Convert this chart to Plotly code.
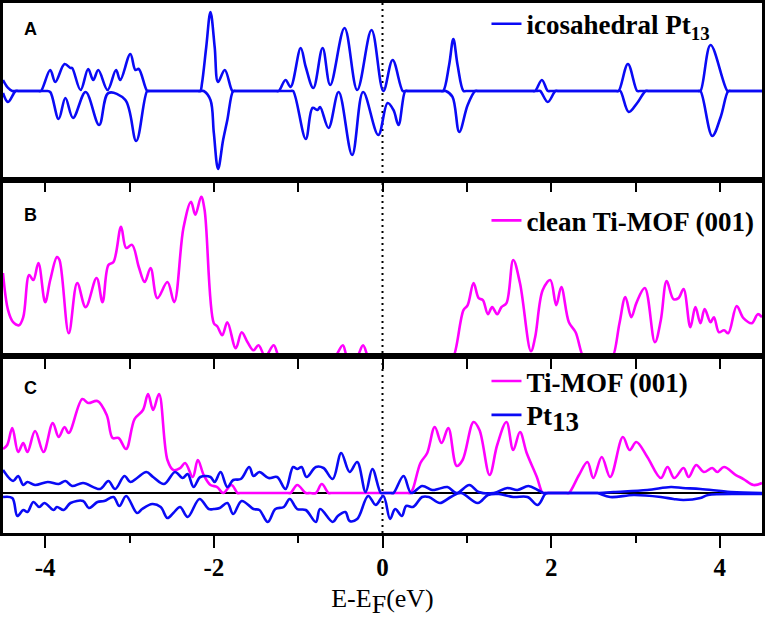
import plotly.graph_objects as go

# ---------------- data (energy E-EF in eV, DOS in arbitrary units) ----------------
# Panel A: icosahedral Pt13, spin up (+) and spin down (-)
a_up = [(-4.50, 1.1), (-4.44, 0.3), (-4.39, 0), (-4.36, 0), (-4.08, 0), (-4.05, 0),
        (-3.94, 2.1), (-3.88, 0.9), (-3.77, 2.7), (-3.70, 2.3), (-3.68, 2.3), (-3.58, 0.1),
        (-3.49, 2.2), (-3.43, 1.1), (-3.37, 2.1), (-3.26, 0.1), (-3.16, 2.1), (-3.11, 1.1),
        (-2.99, 3.7), (-2.93, 2.1), (-2.89, 2.2), (-2.79, 0), (-2.76, 0),
        (-2.19, 0), (-2.16, 0), (-2.14, 0.8), (-2.09, 4.4), (-2.04, 7.9), (-1.99, 4.4),
        (-1.95, 0.9), (-1.87, 2.1), (-1.78, 0), (-1.75, 0),
        (-1.26, 0), (-1.23, 0), (-1.15, 1.1), (-1.09, 0.4), (-0.97, 4.3), (-0.91, 2.4),
        (-0.82, 0.3), (-0.71, 4.3), (-0.62, 0.6), (-0.45, 6.3), (-0.30, 0.1), (-0.13, 6.1),
        (0.01, 0), (0.12, 3.1), (0.24, 0), (0.27, 0),
        (0.69, 0), (0.72, 0), (0.79, 2.6), (0.84, 5.2), (0.89, 2.6), (0.96, 0), (0.99, 0),
        (1.78, 0), (1.81, 0), (1.89, 1.1), (1.96, 0), (1.99, 0),
        (2.77, 0), (2.80, 0), (2.91, 2.7), (3.02, 0), (3.05, 0),
        (3.74, 0), (3.77, 0), (3.89, 4.6), (4.09, 0), (4.12, 0), (4.50, 0)]

a_down = [(-4.50, -0.2), (-4.44, -1.1), (-4.35, 0), (-4.32, 0), (-4.01, 0), (-3.98, 0),
          (-3.94, -0.1), (-3.84, -2.8), (-3.76, -0.7), (-3.67, -2.7), (-3.52, -0.1),
          (-3.36, -3.4), (-3.25, -0.2), (-3.05, -0.9), (-2.92, -5.0), (-2.79, 0), (-2.76, 0),
          (-2.15, 0), (-2.12, 0), (-2.04, -0.9), (-2.00, -4.2), (-1.95, -7.8), (-1.89, -4.9),
          (-1.84, -2.9), (-1.77, 0), (-1.74, 0),
          (-1.09, 0), (-1.06, 0), (-0.91, -4.8), (-0.83, -1.7), (-0.77, -1.9), (-0.74, -1.6),
          (-0.64, -3.7), (-0.52, -0.1), (-0.36, -6.4), (-0.23, -0.1), (-0.05, -4.4),
          (0.06, -1.2), (0.13, -1.9), (0.19, -3.4), (0.27, 0), (0.30, 0),
          (0.72, 0), (0.75, 0), (0.83, -0.6), (0.91, -4.1), (1.01, -1.4), (1.10, 0), (1.13, 0),
          (1.84, 0), (1.87, 0), (1.96, -1.1), (2.05, 0), (2.08, 0),
          (2.79, 0), (2.82, 0), (2.92, -2.1), (3.02, -1.2), (3.12, 0), (3.15, 0),
          (3.74, 0), (3.77, 0), (3.91, -4.5), (4.01, -2.6), (4.10, 0), (4.13, 0), (4.50, 0)]

# Panel B: clean Ti-MOF (001)
b_mof = [(-4.50, 8.3), (-4.44, 4.6), (-4.38, 3.4), (-4.31, 3.1), (-4.26, 3.9), (-4.19, 8.1),
         (-4.14, 7.6), (-4.08, 9.3), (-4.00, 5.4), (-3.94, 7.6), (-3.86, 9.9), (-3.83, 9.6),
         (-3.72, 2.3), (-3.62, 7.3), (-3.52, 4.9), (-3.39, 7.8), (-3.32, 5.4), (-3.25, 9.1),
         (-3.19, 9.4), (-3.10, 12.9), (-3.04, 10.8), (-2.97, 11.1), (-2.89, 8.9), (-2.82, 7.4),
         (-2.75, 8.8), (-2.67, 5.8), (-2.55, 7.4), (-2.47, 5.4), (-2.36, 12.8), (-2.27, 15.4),
         (-2.22, 14.1), (-2.15, 15.9), (-2.11, 14.6), (-2.00, 3.3), (-1.96, 3.0), (-1.90, 2.1),
         (-1.84, 3.4), (-1.74, 0.8), (-1.67, 2.4), (-1.60, 1.4), (-1.53, 0.6), (-1.47, 1.1),
         (-1.39, 0), (-1.29, 1.1), (-1.23, 0), (-1.20, 0),
         (-0.59, 0), (-0.56, 0), (-0.47, 1.1), (-0.42, 0), (-0.38, 0),
         (-0.33, 0), (-0.30, 0), (-0.23, 1.1), (-0.17, 0), (-0.14, 0),
         (0.81, 0), (0.84, 0), (0.96, 4.6), (1.01, 5.1), (1.08, 7.3), (1.14, 5.8), (1.19, 5.6),
         (1.25, 4.2), (1.30, 4.9), (1.36, 4.2), (1.41, 4.9), (1.47, 5.3), (1.55, 9.6),
         (1.63, 7.3), (1.76, 0.5), (1.81, 1.9), (1.90, 6.6), (1.99, 7.6), (2.06, 5.1),
         (2.12, 6.9), (2.21, 3.4), (2.29, 2.4), (2.38, 0), (2.41, 0),
         (2.70, 0), (2.73, 0), (2.81, 3.3), (2.88, 5.9), (2.95, 3.9), (3.01, 5.3), (3.11, 6.8),
         (3.23, 1.4), (3.30, 3.6), (3.37, 7.5), (3.45, 5.7), (3.51, 5.8), (3.57, 6.7),
         (3.65, 2.9), (3.71, 4.9), (3.77, 3.3), (3.82, 4.7), (3.89, 3.4), (3.93, 3.9),
         (3.99, 2.4), (4.05, 2.6), (4.10, 2.3), (4.20, 5.0), (4.28, 3.8), (4.38, 3.3),
         (4.45, 4.2), (4.50, 3.9)]

# Panel C: Pt13 on Ti-MOF (001)
c_mof = [(-4.50, 4.4), (-4.45, 4.8), (-4.39, 6.5), (-4.32, 4.1), (-4.26, 5.0), (-4.21, 4.1),
         (-4.12, 6.2), (-4.02, 4.1), (-3.91, 7.0), (-3.84, 5.6), (-3.77, 6.6), (-3.72, 6.0),
         (-3.56, 9.4), (-3.49, 9.0), (-3.38, 9.2), (-3.27, 7.8), (-3.20, 5.5), (-3.13, 5.5),
         (-3.04, 4.4), (-2.94, 7.4), (-2.84, 8.3), (-2.78, 9.9), (-2.72, 8.3), (-2.65, 9.9),
         (-2.55, 3.3), (-2.48, 2.3), (-2.40, 2.5), (-2.34, 3.0), (-2.25, 1.6), (-2.19, 3.3),
         (-2.12, 1.8), (-2.04, 0.8), (-1.96, 0.6), (-1.89, 0), (-1.79, 0.8), (-1.72, 0),
         (-1.69, 0), (-1.12, 0), (-1.09, 0), (-1.01, 0.8), (-0.91, 0), (-0.86, 0),
         (-0.79, 0), (-0.72, 0.9), (-0.64, 0), (-0.61, 0),
         (0.30, 0), (0.33, 0), (0.36, 0.4), (0.45, 3.0), (0.53, 4.0), (0.62, 6.6), (0.70, 5.0),
         (0.78, 6.5), (0.88, 2.7), (0.95, 3.3), (1.08, 7.1), (1.15, 6.3), (1.27, 1.8),
         (1.36, 4.8), (1.47, 7.1), (1.55, 4.3), (1.63, 6.1), (1.71, 4.0), (1.83, 1.6),
         (1.90, 0), (1.93, 0), (2.18, 0), (2.21, 0),
         (2.33, 1.8), (2.43, 3.1), (2.50, 1.5), (2.60, 3.6), (2.70, 1.6), (2.85, 5.6),
         (2.93, 4.3), (3.01, 5.1), (3.14, 3.6), (3.30, 1.5), (3.38, 2.6), (3.46, 1.5),
         (3.57, 2.5), (3.63, 1.6), (3.72, 2.8), (3.81, 2.1), (3.91, 2.5), (3.97, 2.1),
         (4.05, 2.6), (4.19, 1.8), (4.28, 1.4), (4.40, 0.8), (4.50, 1.0)]

c_pt_up = [(-4.50, 2.3), (-4.38, 1.2), (-4.32, 1.7), (-4.26, 0.8), (-4.21, 1.1), (-4.12, 0.8),
           (-3.97, 1.1), (-3.84, 0.9), (-3.76, 1.2), (-3.68, 0.7), (-3.55, 1.0), (-3.35, 0.4),
           (-3.25, 1.2), (-3.17, 0.4), (-3.06, 1.7), (-2.99, 1.1), (-2.91, 1.5), (-2.80, 2.1),
           (-2.72, 1.6), (-2.59, 0.9), (-2.46, 2.1), (-2.37, 1.5), (-2.31, 1.9), (-2.24, 0.6),
           (-2.16, 1.6), (-2.04, 1.6), (-1.99, 1.1), (-1.92, 2.1), (-1.84, 0.6), (-1.77, 1.3),
           (-1.68, 1.4), (-1.58, 2.6), (-1.53, 1.7), (-1.46, 2.1), (-1.35, 1.5), (-1.25, 1.6),
           (-1.15, 0.4), (-1.06, 2.6), (-1.01, 2.4), (-0.96, 2.6), (-0.90, 1.6), (-0.79, 2.6),
           (-0.70, 2.5), (-0.59, 1.4), (-0.49, 4.0), (-0.39, 2.1), (-0.30, 3.1), (-0.20, 0.1),
           (-0.12, 2.4), (-0.02, 0), (0.01, 0), (0.10, 0), (0.13, 0), (0.25, 1.7), (0.34, 0),
           (0.47, 0.7), (0.59, 0.3), (0.66, 0.4), (0.77, 0.6), (0.88, 0), (1.03, 0.8),
           (1.14, 0.1), (1.32, 0), (1.48, 0.5), (1.60, 0.3), (1.73, 0.7), (1.84, 0.3),
           (1.91, 0), (1.94, 0), (2.52, 0), (2.55, 0), (2.74, 0.1), (3.14, 0.3), (3.42, 0.6),
           (3.56, 0.5), (3.77, 0.4), (4.13, 0.1), (4.50, 0)]

c_pt_down = [(-4.50, -0.4), (-4.39, -0.5), (-4.33, -2.3), (-4.26, -1.7), (-4.21, -1.9),
             (-4.14, -0.9), (-4.07, -1.4), (-4.01, -1.0), (-3.90, -1.7), (-3.86, -1.4),
             (-3.78, -1.7), (-3.70, -1.0), (-3.55, -0.8), (-3.48, -1.5), (-3.38, -0.9),
             (-3.30, -0.8), (-3.19, -0.4), (-3.12, -1.3), (-3.04, -0.3), (-2.91, -2.0),
             (-2.85, -1.6), (-2.73, -1.1), (-2.63, -1.4), (-2.55, -2.5), (-2.48, -2.0),
             (-2.40, -1.4), (-2.31, -2.4), (-2.17, -0.6), (-2.06, -1.6), (-2.00, -1.6),
             (-1.93, -1.5), (-1.84, -1.0), (-1.77, -2.1), (-1.67, -0.8), (-1.53, -1.6),
             (-1.46, -1.7), (-1.36, -2.9), (-1.27, -1.6), (-1.17, -1.4), (-1.10, -0.6),
             (-1.01, -1.6), (-0.91, -1.7), (-0.79, -2.9), (-0.74, -1.6), (-0.59, -2.9),
             (-0.53, -2.3), (-0.44, -1.9), (-0.39, -2.8), (-0.30, -2.6), (-0.17, -0.3),
             (-0.08, -1.2), (0.01, -0.3), (0.09, -2.6), (0.15, -1.6), (0.23, -2.3),
             (0.28, -1.3), (0.36, -1.4), (0.40, -1.1), (0.47, -0.4), (0.55, -0.4),
             (0.68, -1.0), (0.81, -0.4), (0.93, 0), (1.13, -1.0), (1.25, -0.2), (1.38, -0.1),
             (1.55, -0.4), (1.72, -0.4), (1.84, -1.2), (1.93, -0.1), (1.97, 0), (2.00, 0),
             (2.52, 0), (2.55, 0), (2.70, -0.4), (2.98, -0.2), (3.30, -0.4), (3.45, -0.6),
             (3.57, -0.7), (3.77, -0.5), (3.86, -0.2), (4.33, -0.1), (4.50, -0.1)]

x_ticks = [-4, -2, 0, 2, 4]
x_tick_labels = ["-4", "-2", "0", "2", "4"]

BLUE = "#0a0af5"
MAGENTA = "#ff00ff"
SERIF = "Liberation Serif, Times New Roman, serif"

fig = go.Figure()


def add_line(pairs, color, xa, ya, name, legend, show):
    e, d = zip(*pairs)
    fig.add_trace(go.Scatter(
        x=list(e), y=list(d), mode="lines", name=name, legend=legend, showlegend=show,
        line=dict(color=color, width=2.6, shape="spline", smoothing=1.0),
        xaxis=xa, yaxis=ya, hoverinfo="x+y"))


add_line(a_up, BLUE, "x", "y", "<b>icosahedral Pt<sub>13</sub></b>", "legend", True)
add_line(a_down, BLUE, "x", "y", "icosahedral Pt13", "legend", False)
add_line(b_mof, MAGENTA, "x2", "y2", "<b>clean Ti-MOF (001)</b>", "legend2", True)
add_line(c_mof, MAGENTA, "x3", "y3", "<b>Ti-MOF (001)</b>", "legend3", True)
add_line(c_pt_up, BLUE, "x3", "y3",
         "<b>Pt<sub><span style='font-size:27px'>13</span></sub></b>", "legend4", True)
add_line(c_pt_down, BLUE, "x3", "y3", "Pt13", "legend4", False)

frame = dict(showline=True, mirror=True, linecolor="black", linewidth=2.6,
             showgrid=False, zeroline=False, automargin=False)
xcommon = dict(range=[-4.5, 4.5], **frame)
xtop = dict(ticks="outside", tick0=0, dtick=1, ticklen=10, tickwidth=2,
            tickcolor="black", showticklabels=False)
ycommon = dict(showticklabels=False, ticks="", **frame)

third = 1.0 / 3.0
legfont = dict(family=SERIF, size=27, color="black")
LX = 0.637


def leg(y):
    return dict(x=LX, y=y, xanchor="left", yanchor="middle", itemwidth=30,
                bgcolor="rgba(0,0,0,0)", font=legfont)


fig.update_layout(
    width=765, height=624,
    margin=dict(l=3, r=3, t=3, b=91, autoexpand=False),
    paper_bgcolor="white", plot_bgcolor="white",
    xaxis=dict(anchor="y", domain=[0, 1], **xcommon, **xtop),
    xaxis2=dict(anchor="y2", domain=[0, 1], matches="x", **xcommon, **xtop),
    xaxis3=dict(anchor="y3", domain=[0, 1], matches="x", **xcommon,
                ticks="outside", tickvals=x_ticks,
                ticktext=["<b>%s</b>" % t for t in x_tick_labels],
                ticklen=12, tickwidth=2, tickcolor="black",
                minor=dict(dtick=1, tick0=0, ticks="outside", ticklen=7, tickwidth=2,
                           tickcolor="black"),
                tickfont=dict(family=SERIF, size=25, color="black"),
                ticklabelstandoff=-2,
                title=dict(text="E-E<sub><span style='font-size:26px'>F</span></sub>(eV)",
                           standoff=10,
                           font=dict(family=SERIF, size=26, color="black"))),
    yaxis=dict(anchor="x", domain=[2 * third, 1], range=[-8.87, 8.8], **ycommon),
    yaxis2=dict(anchor="x2", domain=[third, 2 * third], range=[0, 17.6], **ycommon),
    yaxis3=dict(anchor="x3", domain=[0, third], range=[-4.0, 13.67], **ycommon),
    legend=leg(0.960),
    legend2=leg(0.589),
    legend3=leg(0.286),
    legend4=leg(0.222),
    showlegend=True,
)

# zero line of panel C
fig.update_yaxes(selector=dict(anchor="x3"), zeroline=True, zerolinecolor="black",
                 zerolinewidth=2.2)

# Fermi level (dotted) across all panels
fig.add_shape(type="line", xref="x3", x0=0, x1=0, yref="paper", y0=0, y1=1,
              line=dict(color="black", width=2, dash="2px,4px"), layer="below")

for label, ypos in [("A", 0.951), ("B", 0.600), ("C", 0.2736)]:
    fig.add_annotation(text="<b>%s</b>" % label, xref="paper", yref="paper",
                       x=0.0356, y=ypos, xanchor="center", yanchor="middle",
                       showarrow=False,
                       font=dict(family="Liberation Sans, Arial, sans-serif", size=18,
                                 color="black"))

fig.write_html("out.html", config={"displayModeBar": False},
               post_script="document.body.style.margin='0px';"
                           "document.body.style.overflow='hidden';")
